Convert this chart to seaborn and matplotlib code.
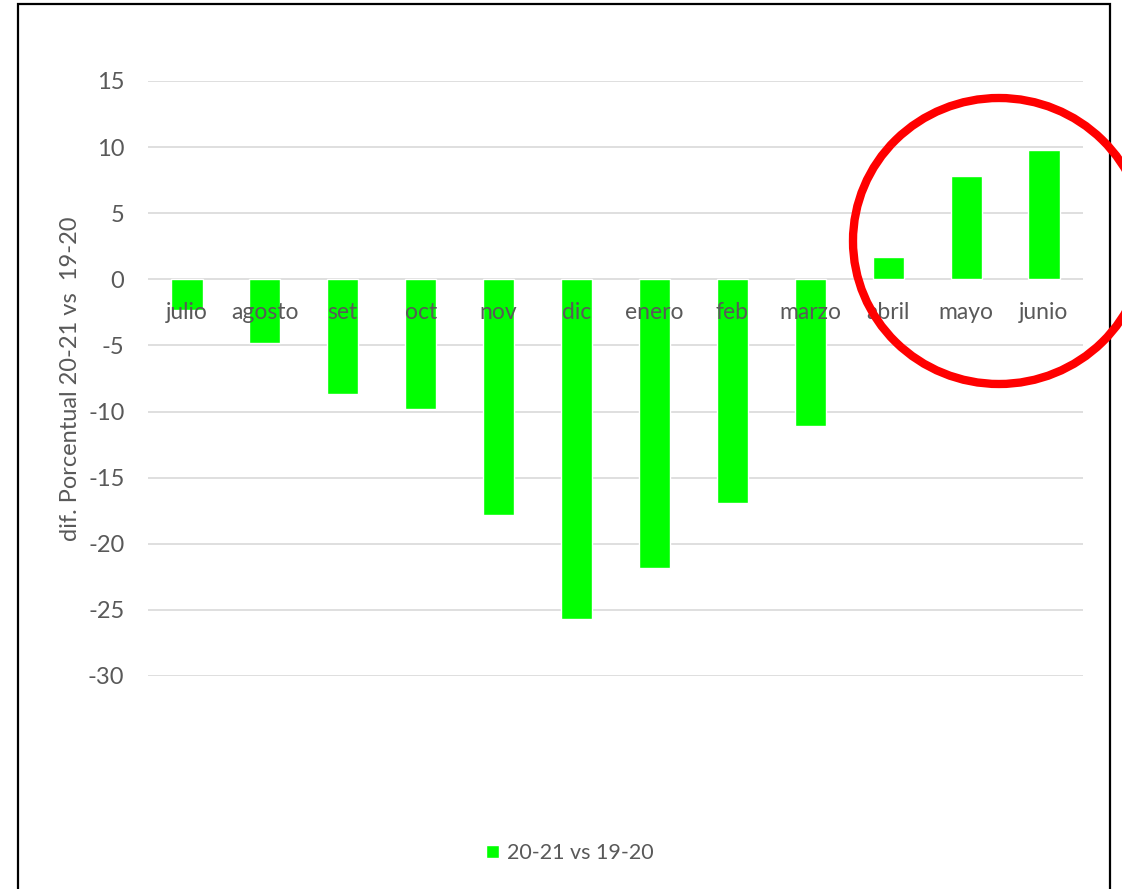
import matplotlib
matplotlib.use("Agg")
import matplotlib.pyplot as plt
import seaborn as sns
import pandas as pd
from matplotlib.patches import Ellipse, Rectangle

# data
meses = ["julio", "agosto", "set", "oct", "nov", "dic", "enero", "feb",
         "marzo", "abril", "mayo", "junio"]
valores = [-2.3, -4.8, -8.7, -9.8, -17.8, -25.7, -21.8, -16.9, -11.1, 1.7, 7.8, 9.8]
serie = "20-21 vs 19-20"
yticks = [15, 10, 5, 0, -5, -10, -15, -20, -25, -30]

df = pd.DataFrame({"mes": meses, "valor": valores, "serie": serie})

sns.set_theme(style="white")
plt.rcParams["font.family"] = ["Lato", "DejaVu Sans"]
text_color = "#595959"
fs = 16.5

W, H = 1122, 889
fig = plt.figure(figsize=(W / 100, H / 100), dpi=100)
ax = fig.add_axes([148 / W, 1 - 676 / H, (1083 - 148) / W, (676 - 81) / H])

sns.barplot(data=df, x="mes", y="valor", hue="serie", palette=["#00ff00"],
            width=0.4, saturation=1, ax=ax, zorder=3)

ax.set_ylim(-30, 15)
ax.set_xlim(-0.5, len(meses) - 0.5)
ax.set_yticks(yticks)
ax.set_yticklabels([str(t) for t in yticks], fontsize=fs + 0.5, color=text_color)
ax.tick_params(axis="y", length=0, pad=17)
ax.grid(axis="y", color="#d9d9d9", linewidth=1.2, zorder=0)
ax.set_axisbelow(True)
for s in ax.spines.values():
    s.set_visible(False)

# category labels sit right under the zero line
ax.set_xticks([])
ax.set_xlabel("")
for i, m in enumerate(meses):
    ax.text(i, -2.5, m, ha="center", va="center", fontsize=fs, color=text_color, zorder=4)

ax.set_ylabel("dif. Porcentual 20-21 vs  19-20", fontsize=fs + 0.5, color=text_color, labelpad=5)

sns.move_legend(ax, "center", bbox_to_anchor=(570 / W, 1 - 853 / H),
                bbox_transform=fig.transFigure, frameon=False, title=None,
                fontsize=15.5, handlelength=0.6, handleheight=0.6, handletextpad=0.35)
for t in ax.get_legend().get_texts():
    t.set_color(text_color)

# outer frame and red highlight circle (figure pixel coords)
fig.patches.append(Rectangle((18, -10), 1092, H - 4 + 10, transform=None,
                             fill=False, edgecolor="black", linewidth=1.6))
fig.patches.append(Ellipse((999, H - 241), 292, 286, transform=None,
                           fill=False, edgecolor="#ff0000", linewidth=6))

fig.savefig("out.png", dpi=100)
